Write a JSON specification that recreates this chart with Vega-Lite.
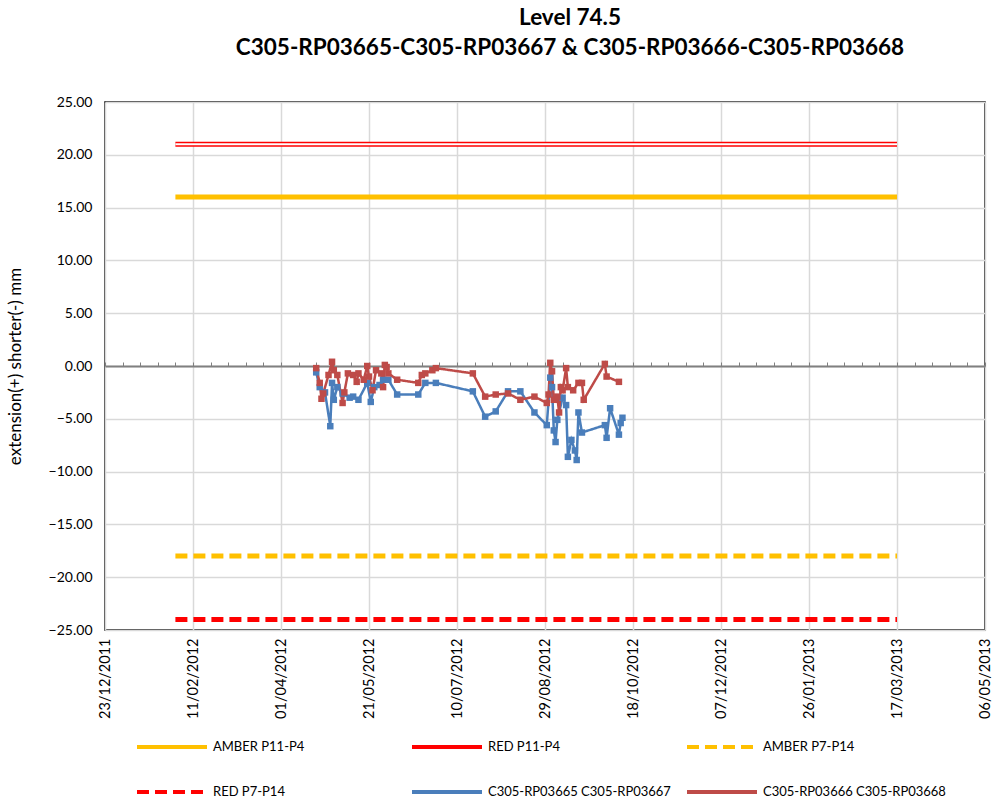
{
  "$schema": "https://vega.github.io/schema/vega-lite/v6.json",
  "width": 880,
  "height": 528,
  "autosize": "none",
  "padding": {"left": 105, "top": 102, "right": 10, "bottom": 170},
  "background": "white",
  "config": {
    "view": {"stroke": "#000000", "strokeWidth": 1.5},
    "font": "Lato"
  },
  "title": {
    "text": ["Level 74.5", "C305-RP03665-C305-RP03667 & C305-RP03666-C305-RP03668"],
    "fontSize": 22.5,
    "fontWeight": "bold",
    "lineHeight": 30,
    "offset": 36,
    "dx": 25,
    "color": "#000000",
    "font": "Lato"
  },
  "data": {
    "values": [
      {"kind": "thr", "series": "AMBER P11-P4", "date": "2012-02-01", "value": 16},
      {"kind": "thr", "series": "AMBER P11-P4", "date": "2013-03-17", "value": 16},
      {"kind": "thr", "series": "RED P11-P4", "date": "2012-02-01", "value": 21},
      {"kind": "thr", "series": "RED P11-P4", "date": "2013-03-17", "value": 21},
      {"kind": "thr", "series": "AMBER P7-P14", "date": "2012-02-01", "value": -18},
      {"kind": "thr", "series": "AMBER P7-P14", "date": "2013-03-17", "value": -18},
      {"kind": "thr", "series": "RED P7-P14", "date": "2012-02-01", "value": -24},
      {"kind": "thr", "series": "RED P7-P14", "date": "2013-03-17", "value": -24},

      {"kind": "obs", "series": "C305-RP03665 C305-RP03667", "date": "2012-04-21", "value": -0.6},
      {"kind": "obs", "series": "C305-RP03665 C305-RP03667", "date": "2012-04-23", "value": -2.0},
      {"kind": "obs", "series": "C305-RP03665 C305-RP03667", "date": "2012-04-26", "value": -2.5},
      {"kind": "obs", "series": "C305-RP03665 C305-RP03667", "date": "2012-04-29", "value": -5.7},
      {"kind": "obs", "series": "C305-RP03665 C305-RP03667", "date": "2012-04-30", "value": -1.6},
      {"kind": "obs", "series": "C305-RP03665 C305-RP03667", "date": "2012-05-01", "value": -3.2},
      {"kind": "obs", "series": "C305-RP03665 C305-RP03667", "date": "2012-05-03", "value": -2.0},
      {"kind": "obs", "series": "C305-RP03665 C305-RP03667", "date": "2012-05-06", "value": -2.6},
      {"kind": "obs", "series": "C305-RP03665 C305-RP03667", "date": "2012-05-10", "value": -3.0},
      {"kind": "obs", "series": "C305-RP03665 C305-RP03667", "date": "2012-05-12", "value": -2.9},
      {"kind": "obs", "series": "C305-RP03665 C305-RP03667", "date": "2012-05-15", "value": -3.2},
      {"kind": "obs", "series": "C305-RP03665 C305-RP03667", "date": "2012-05-20", "value": -1.6},
      {"kind": "obs", "series": "C305-RP03665 C305-RP03667", "date": "2012-05-22", "value": -3.4},
      {"kind": "obs", "series": "C305-RP03665 C305-RP03667", "date": "2012-05-24", "value": -2.0},
      {"kind": "obs", "series": "C305-RP03665 C305-RP03667", "date": "2012-05-27", "value": -1.8},
      {"kind": "obs", "series": "C305-RP03665 C305-RP03667", "date": "2012-05-29", "value": -1.3},
      {"kind": "obs", "series": "C305-RP03665 C305-RP03667", "date": "2012-06-01", "value": -1.3},
      {"kind": "obs", "series": "C305-RP03665 C305-RP03667", "date": "2012-06-06", "value": -2.7},
      {"kind": "obs", "series": "C305-RP03665 C305-RP03667", "date": "2012-06-18", "value": -2.7},
      {"kind": "obs", "series": "C305-RP03665 C305-RP03667", "date": "2012-06-22", "value": -1.6},
      {"kind": "obs", "series": "C305-RP03665 C305-RP03667", "date": "2012-06-28", "value": -1.6},
      {"kind": "obs", "series": "C305-RP03665 C305-RP03667", "date": "2012-07-19", "value": -2.4},
      {"kind": "obs", "series": "C305-RP03665 C305-RP03667", "date": "2012-07-26", "value": -4.8},
      {"kind": "obs", "series": "C305-RP03665 C305-RP03667", "date": "2012-08-01", "value": -4.3},
      {"kind": "obs", "series": "C305-RP03665 C305-RP03667", "date": "2012-08-08", "value": -2.4},
      {"kind": "obs", "series": "C305-RP03665 C305-RP03667", "date": "2012-08-15", "value": -2.4},
      {"kind": "obs", "series": "C305-RP03665 C305-RP03667", "date": "2012-08-23", "value": -4.4},
      {"kind": "obs", "series": "C305-RP03665 C305-RP03667", "date": "2012-08-30", "value": -5.6},
      {"kind": "obs", "series": "C305-RP03665 C305-RP03667", "date": "2012-09-01", "value": -1.1},
      {"kind": "obs", "series": "C305-RP03665 C305-RP03667", "date": "2012-09-02", "value": -2.0},
      {"kind": "obs", "series": "C305-RP03665 C305-RP03667", "date": "2012-09-03", "value": -6.1},
      {"kind": "obs", "series": "C305-RP03665 C305-RP03667", "date": "2012-09-04", "value": -7.2},
      {"kind": "obs", "series": "C305-RP03665 C305-RP03667", "date": "2012-09-05", "value": -5.1},
      {"kind": "obs", "series": "C305-RP03665 C305-RP03667", "date": "2012-09-08", "value": -3.0},
      {"kind": "obs", "series": "C305-RP03665 C305-RP03667", "date": "2012-09-10", "value": -3.7},
      {"kind": "obs", "series": "C305-RP03665 C305-RP03667", "date": "2012-09-11", "value": -8.6},
      {"kind": "obs", "series": "C305-RP03665 C305-RP03667", "date": "2012-09-13", "value": -7.0},
      {"kind": "obs", "series": "C305-RP03665 C305-RP03667", "date": "2012-09-15", "value": -8.0},
      {"kind": "obs", "series": "C305-RP03665 C305-RP03667", "date": "2012-09-16", "value": -8.9},
      {"kind": "obs", "series": "C305-RP03665 C305-RP03667", "date": "2012-09-17", "value": -4.4},
      {"kind": "obs", "series": "C305-RP03665 C305-RP03667", "date": "2012-09-19", "value": -6.3},
      {"kind": "obs", "series": "C305-RP03665 C305-RP03667", "date": "2012-10-02", "value": -5.6},
      {"kind": "obs", "series": "C305-RP03665 C305-RP03667", "date": "2012-10-03", "value": -6.8},
      {"kind": "obs", "series": "C305-RP03665 C305-RP03667", "date": "2012-10-05", "value": -4.0},
      {"kind": "obs", "series": "C305-RP03665 C305-RP03667", "date": "2012-10-10", "value": -6.5},
      {"kind": "obs", "series": "C305-RP03665 C305-RP03667", "date": "2012-10-11", "value": -5.4},
      {"kind": "obs", "series": "C305-RP03665 C305-RP03667", "date": "2012-10-12", "value": -4.9},

      {"kind": "obs", "series": "C305-RP03666 C305-RP03668", "date": "2012-04-21", "value": -0.2},
      {"kind": "obs", "series": "C305-RP03666 C305-RP03668", "date": "2012-04-23", "value": -1.6},
      {"kind": "obs", "series": "C305-RP03666 C305-RP03668", "date": "2012-04-24", "value": -3.1},
      {"kind": "obs", "series": "C305-RP03666 C305-RP03668", "date": "2012-04-25", "value": -2.6},
      {"kind": "obs", "series": "C305-RP03666 C305-RP03668", "date": "2012-04-28", "value": -0.85},
      {"kind": "obs", "series": "C305-RP03666 C305-RP03668", "date": "2012-04-30", "value": 0.4},
      {"kind": "obs", "series": "C305-RP03666 C305-RP03668", "date": "2012-05-01", "value": -0.4},
      {"kind": "obs", "series": "C305-RP03666 C305-RP03668", "date": "2012-05-03", "value": -0.85},
      {"kind": "obs", "series": "C305-RP03666 C305-RP03668", "date": "2012-05-06", "value": -3.5},
      {"kind": "obs", "series": "C305-RP03666 C305-RP03668", "date": "2012-05-07", "value": -2.5},
      {"kind": "obs", "series": "C305-RP03666 C305-RP03668", "date": "2012-05-09", "value": -0.7},
      {"kind": "obs", "series": "C305-RP03666 C305-RP03668", "date": "2012-05-12", "value": -0.85},
      {"kind": "obs", "series": "C305-RP03666 C305-RP03668", "date": "2012-05-14", "value": -1.5},
      {"kind": "obs", "series": "C305-RP03666 C305-RP03668", "date": "2012-05-15", "value": -0.7},
      {"kind": "obs", "series": "C305-RP03666 C305-RP03668", "date": "2012-05-18", "value": -1.3},
      {"kind": "obs", "series": "C305-RP03666 C305-RP03668", "date": "2012-05-20", "value": 0.0},
      {"kind": "obs", "series": "C305-RP03666 C305-RP03668", "date": "2012-05-21", "value": -1.0},
      {"kind": "obs", "series": "C305-RP03666 C305-RP03668", "date": "2012-05-23", "value": -2.3},
      {"kind": "obs", "series": "C305-RP03666 C305-RP03668", "date": "2012-05-25", "value": -0.4},
      {"kind": "obs", "series": "C305-RP03666 C305-RP03668", "date": "2012-05-28", "value": -0.7},
      {"kind": "obs", "series": "C305-RP03666 C305-RP03668", "date": "2012-05-29", "value": -2.0},
      {"kind": "obs", "series": "C305-RP03666 C305-RP03668", "date": "2012-05-30", "value": 0.1},
      {"kind": "obs", "series": "C305-RP03666 C305-RP03668", "date": "2012-05-31", "value": -0.1},
      {"kind": "obs", "series": "C305-RP03666 C305-RP03668", "date": "2012-06-01", "value": -0.7},
      {"kind": "obs", "series": "C305-RP03666 C305-RP03668", "date": "2012-06-06", "value": -1.3},
      {"kind": "obs", "series": "C305-RP03666 C305-RP03668", "date": "2012-06-18", "value": -1.6},
      {"kind": "obs", "series": "C305-RP03666 C305-RP03668", "date": "2012-06-20", "value": -0.85},
      {"kind": "obs", "series": "C305-RP03666 C305-RP03668", "date": "2012-06-22", "value": -0.7},
      {"kind": "obs", "series": "C305-RP03666 C305-RP03668", "date": "2012-06-26", "value": -0.4},
      {"kind": "obs", "series": "C305-RP03666 C305-RP03668", "date": "2012-06-28", "value": -0.2},
      {"kind": "obs", "series": "C305-RP03666 C305-RP03668", "date": "2012-07-19", "value": -0.7},
      {"kind": "obs", "series": "C305-RP03666 C305-RP03668", "date": "2012-07-26", "value": -2.9},
      {"kind": "obs", "series": "C305-RP03666 C305-RP03668", "date": "2012-08-01", "value": -2.7},
      {"kind": "obs", "series": "C305-RP03666 C305-RP03668", "date": "2012-08-08", "value": -2.6},
      {"kind": "obs", "series": "C305-RP03666 C305-RP03668", "date": "2012-08-15", "value": -3.2},
      {"kind": "obs", "series": "C305-RP03666 C305-RP03668", "date": "2012-08-23", "value": -2.9},
      {"kind": "obs", "series": "C305-RP03666 C305-RP03668", "date": "2012-08-30", "value": -3.5},
      {"kind": "obs", "series": "C305-RP03666 C305-RP03668", "date": "2012-08-31", "value": -2.7},
      {"kind": "obs", "series": "C305-RP03666 C305-RP03668", "date": "2012-09-01", "value": 0.3},
      {"kind": "obs", "series": "C305-RP03666 C305-RP03668", "date": "2012-09-02", "value": -0.5},
      {"kind": "obs", "series": "C305-RP03666 C305-RP03668", "date": "2012-09-03", "value": -3.2},
      {"kind": "obs", "series": "C305-RP03666 C305-RP03668", "date": "2012-09-05", "value": -2.9},
      {"kind": "obs", "series": "C305-RP03666 C305-RP03668", "date": "2012-09-06", "value": -4.4},
      {"kind": "obs", "series": "C305-RP03666 C305-RP03668", "date": "2012-09-07", "value": -2.0},
      {"kind": "obs", "series": "C305-RP03666 C305-RP03668", "date": "2012-09-08", "value": -2.3},
      {"kind": "obs", "series": "C305-RP03666 C305-RP03668", "date": "2012-09-10", "value": -0.2},
      {"kind": "obs", "series": "C305-RP03666 C305-RP03668", "date": "2012-09-11", "value": -2.0},
      {"kind": "obs", "series": "C305-RP03666 C305-RP03668", "date": "2012-09-14", "value": -2.3},
      {"kind": "obs", "series": "C305-RP03666 C305-RP03668", "date": "2012-09-17", "value": -1.6},
      {"kind": "obs", "series": "C305-RP03666 C305-RP03668", "date": "2012-09-19", "value": -1.6},
      {"kind": "obs", "series": "C305-RP03666 C305-RP03668", "date": "2012-09-20", "value": -3.2},
      {"kind": "obs", "series": "C305-RP03666 C305-RP03668", "date": "2012-10-02", "value": 0.2},
      {"kind": "obs", "series": "C305-RP03666 C305-RP03668", "date": "2012-10-03", "value": -1.0},
      {"kind": "obs", "series": "C305-RP03666 C305-RP03668", "date": "2012-10-10", "value": -1.5}
    ]
  },
  "resolve": {"axis": {"x": "independent"}},
  "layer": [
    {
      "transform": [{"filter": "datum.kind === 'thr'"}],
      "mark": {"type": "line", "strokeWidth": 5, "strokeCap": "butt"},
      "encoding": {
        "x": {
          "field": "date", "type": "temporal",
          "scale": {"domain": [{"year": 2011, "month": 12, "date": 23}, {"year": 2013, "month": 5, "date": 6}]},
          "axis": {
            "orient": "bottom",
            "values": [
              {"year": 2011, "month": 12, "date": 23},
              {"year": 2012, "month": 2, "date": 11},
              {"year": 2012, "month": 4, "date": 1},
              {"year": 2012, "month": 5, "date": 21},
              {"year": 2012, "month": 7, "date": 10},
              {"year": 2012, "month": 8, "date": 29},
              {"year": 2012, "month": 10, "date": 18},
              {"year": 2012, "month": 12, "date": 7},
              {"year": 2013, "month": 1, "date": 26},
              {"year": 2013, "month": 3, "date": 17},
              {"year": 2013, "month": 5, "date": 6}
            ],
            "format": "%d/%m/%Y",
            "labelAngle": -90,
            "labelFontSize": 14.5,
            "labelColor": "#000000",
            "labelPadding": 8,
            "ticks": false,
            "domain": false,
            "grid": true,
            "gridColor": "#D9D9D9",
            "gridWidth": 1.5,
            "title": null
          }
        },
        "y": {
          "field": "value", "type": "quantitative",
          "scale": {"domain": [-25, 25], "nice": false, "zero": false},
          "axis": {
            "title": "extension(+) shorter(-) mm",
            "titleFontSize": 17,
            "titleFontWeight": "normal",
            "titleColor": "#000000",
            "titlePadding": 24,
            "values": [-25, -20, -15, -10, -5, 0, 5, 10, 15, 20, 25],
            "format": ".2f",
            "labelFontSize": 14,
            "labelColor": "#000000",
            "labelPadding": 13,
            "ticks": false,
            "domain": false,
            "grid": true,
            "gridColor": "#D9D9D9",
            "gridWidth": 1.5
          }
        },
        "color": {
          "field": "series", "type": "nominal",
          "scale": {
            "domain": ["AMBER P11-P4", "RED P11-P4", "AMBER P7-P14", "RED P7-P14", "C305-RP03665 C305-RP03667", "C305-RP03666 C305-RP03668"],
            "range": ["#FFC000", "#FF0000", "#FFC000", "#FF0000", "#4A7EBB", "#BE4B48"]
          },
          "legend": {
            "title": null,
            "orient": "none",
            "direction": "horizontal",
            "legendX": 30,
            "legendY": 608,
            "columns": 3,
            "gridAlign": "all",
            "columnPadding": 8,
            "rowPadding": 0,
            "symbolType": "stroke",
            "symbolSize": 4900,
            "symbolStrokeWidth": 4,
            "labelFontSize": 13,
            "labelColor": "#000000",
            "labelLimit": 320,
            "labelOffset": 4
          }
        },
        "strokeDash": {
          "field": "series", "type": "nominal",
          "scale": {
            "domain": ["AMBER P11-P4", "RED P11-P4", "AMBER P7-P14", "RED P7-P14", "C305-RP03665 C305-RP03667", "C305-RP03666 C305-RP03668"],
            "range": [[1, 0], [1, 0], [12, 6], [12, 6], [1, 0], [1, 0]]
          },
          "legend": {
            "title": null,
            "orient": "none",
            "direction": "horizontal",
            "legendX": 30,
            "legendY": 608,
            "columns": 3,
            "gridAlign": "all",
            "columnPadding": 8,
            "rowPadding": 0,
            "symbolType": "stroke",
            "symbolSize": 4900,
            "symbolStrokeWidth": 4,
            "labelFontSize": 13,
            "labelColor": "#000000",
            "labelLimit": 320,
            "labelOffset": 4
          }
        }
      }
    },
    {
      "transform": [{"filter": "datum.series === 'RED P11-P4'"}],
      "mark": {"type": "line", "strokeWidth": 1.8, "color": "#FFFFFF", "strokeCap": "butt"},
      "encoding": {
        "x": {"field": "date", "type": "temporal", "axis": null},
        "y": {"field": "value", "type": "quantitative"}
      }
    },
    {
      "transform": [{"filter": "datum.kind === 'obs'"}],
      "mark": {"type": "line", "strokeWidth": 2.5},
      "encoding": {
        "x": {
          "field": "date", "type": "temporal",
          "axis": {
            "orient": "top",
            "offset": -264,
            "values": [
              {"year": 2011, "month": 12, "date": 23}, {"year": 2011, "month": 12, "date": 33}, {"year": 2011, "month": 12, "date": 43},
              {"year": 2011, "month": 12, "date": 53}, {"year": 2011, "month": 12, "date": 63}, {"year": 2011, "month": 12, "date": 73},
              {"year": 2011, "month": 12, "date": 83}, {"year": 2011, "month": 12, "date": 93}, {"year": 2011, "month": 12, "date": 103},
              {"year": 2011, "month": 12, "date": 113}, {"year": 2011, "month": 12, "date": 123}, {"year": 2011, "month": 12, "date": 133},
              {"year": 2011, "month": 12, "date": 143}, {"year": 2011, "month": 12, "date": 153}, {"year": 2011, "month": 12, "date": 163},
              {"year": 2011, "month": 12, "date": 173}, {"year": 2011, "month": 12, "date": 183}, {"year": 2011, "month": 12, "date": 193},
              {"year": 2011, "month": 12, "date": 203}, {"year": 2011, "month": 12, "date": 213}, {"year": 2011, "month": 12, "date": 223},
              {"year": 2011, "month": 12, "date": 233}, {"year": 2011, "month": 12, "date": 243}, {"year": 2011, "month": 12, "date": 253},
              {"year": 2011, "month": 12, "date": 263}, {"year": 2011, "month": 12, "date": 273}, {"year": 2011, "month": 12, "date": 283},
              {"year": 2011, "month": 12, "date": 293}, {"year": 2011, "month": 12, "date": 303}, {"year": 2011, "month": 12, "date": 313},
              {"year": 2011, "month": 12, "date": 323}, {"year": 2011, "month": 12, "date": 333}, {"year": 2011, "month": 12, "date": 343},
              {"year": 2011, "month": 12, "date": 353}, {"year": 2011, "month": 12, "date": 363}, {"year": 2011, "month": 12, "date": 373},
              {"year": 2011, "month": 12, "date": 383}, {"year": 2011, "month": 12, "date": 393}, {"year": 2011, "month": 12, "date": 403},
              {"year": 2011, "month": 12, "date": 413}, {"year": 2011, "month": 12, "date": 423}, {"year": 2011, "month": 12, "date": 433},
              {"year": 2011, "month": 12, "date": 443}, {"year": 2011, "month": 12, "date": 453}, {"year": 2011, "month": 12, "date": 463},
              {"year": 2011, "month": 12, "date": 473}, {"year": 2011, "month": 12, "date": 483}, {"year": 2011, "month": 12, "date": 493},
              {"year": 2011, "month": 12, "date": 503}, {"year": 2011, "month": 12, "date": 513}, {"year": 2011, "month": 12, "date": 523}
            ],
            "labels": false,
            "ticks": true,
            "tickSize": 4,
            "tickColor": "#808080",
            "tickWidth": 1,
            "domain": true,
            "domainColor": "#808080",
            "domainWidth": 2,
            "grid": false,
            "title": null
          }
        },
        "y": {"field": "value", "type": "quantitative"},
        "color": {"field": "series", "type": "nominal"},
        "strokeDash": {"field": "series", "type": "nominal"}
      }
    },
    {
      "transform": [{"filter": "datum.series === 'C305-RP03665 C305-RP03667'"}],
      "mark": {"type": "point", "shape": "square", "filled": true, "size": 42, "color": "#4A7EBB", "opacity": 1},
      "encoding": {
        "x": {"field": "date", "type": "temporal", "axis": null},
        "y": {"field": "value", "type": "quantitative"}
      }
    },
    {
      "transform": [{"filter": "datum.series === 'C305-RP03666 C305-RP03668'"}],
      "mark": {"type": "point", "shape": "square", "filled": true, "size": 42, "color": "#BE4B48", "opacity": 1},
      "encoding": {
        "x": {"field": "date", "type": "temporal", "axis": null},
        "y": {"field": "value", "type": "quantitative"}
      }
    }
  ]
}
